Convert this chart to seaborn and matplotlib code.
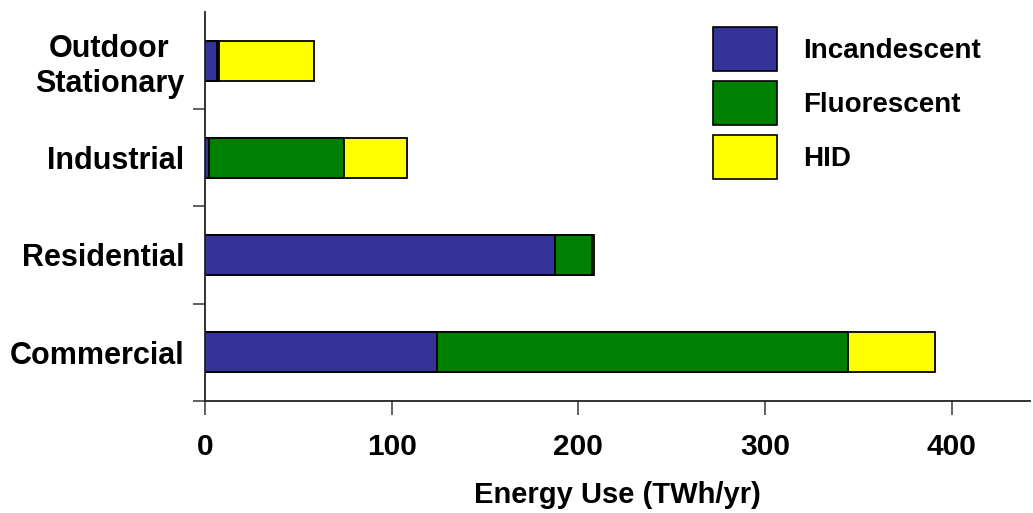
import matplotlib
matplotlib.use("Agg")
import matplotlib.pyplot as plt
from matplotlib.patches import Patch
import numpy as np
import pandas as pd
import seaborn as sns

# ------------------------------------------------------------
# Donnees (TWh/yr)
# ------------------------------------------------------------
sectors = ["Outdoor\nStationary", "Industrial", "Residential", "Commercial"]
incandescent = [6.6, 2.4, 187.5, 124.4]
fluorescent = [1.0, 72.3, 19.9, 220.1]
hid = [50.7, 33.3, 1.0, 46.6]

series_names = ["Incandescent", "Fluorescent", "HID"]
series_colors = ["#333399", "#008000", "#FFFF00"]

sns.set_theme(style="white")
plt.rcParams["font.family"] = ["Liberation Sans", "DejaVu Sans"]
plt.rcParams["font.weight"] = "bold"
plt.rcParams["text.color"] = "black"
plt.rcParams["axes.labelcolor"] = "black"
plt.rcParams["xtick.labelcolor"] = "black"
plt.rcParams["ytick.labelcolor"] = "black"

df = pd.DataFrame({
    "sector": sectors,
    "Incandescent": incandescent,
    "Fluorescent": fluorescent,
    "HID": hid,
})
# cumul pour empiler les barres (on dessine du total vers la premiere serie)
df["cum_inc"] = df["Incandescent"]
df["cum_flu"] = df["cum_inc"] + df["Fluorescent"]
df["cum_hid"] = df["cum_flu"] + df["HID"]

fig = plt.figure(figsize=(10.33, 5.13), dpi=100)
ax = fig.add_axes([205 / 1033, 1 - 400.7 / 513, (1030 - 205) / 1033, (400.7 - 12) / 513])

for col, color in zip(["cum_hid", "cum_flu", "cum_inc"], series_colors[::-1]):
    sns.barplot(data=df, y="sector", x=col, color=color, orient="y",
                width=0.41, edgecolor="black", linewidth=1.3,
                saturation=1, ax=ax)

ax.set_xlim(0, 442)
ax.set_ylim(3.5, -0.5)
ax.set_xticks([0, 100, 200, 300, 400])
ax.set_xlabel("Energy Use (TWh/yr)", fontsize=21, fontweight="bold", labelpad=15)
ax.set_ylabel("")

for sp in ["top", "right"]:
    ax.spines[sp].set_visible(False)
for sp in ["left", "bottom"]:
    ax.spines[sp].set_color("#222222")
    ax.spines[sp].set_linewidth(1.3)

ax.tick_params(axis="x", direction="out", length=10, width=1.3, color="#555555",
               labelsize=21.5, pad=13, bottom=True)
ax.tick_params(axis="y", which="major", length=0, labelsize=22, pad=15, left=False)
ax.set_yticks([0.5, 1.5, 2.5, 3.5], minor=True)
ax.tick_params(axis="y", which="minor", direction="out", length=9, width=1.3,
               color="#555555", left=True)
for lab in ax.get_yticklabels():
    lab.set_fontweight("bold")
    lab.set_multialignment("center")
for lab in ax.get_xticklabels():
    lab.set_fontweight("bold")

handles = [Patch(facecolor=c, edgecolor="black", linewidth=1.2) for c in series_colors]
fig.legend(handles, series_names, loc="upper left",
           bbox_to_anchor=(713 / 1033, 1 - 27 / 513),
           frameon=False, borderpad=0, borderaxespad=0,
           handlelength=2.3, handleheight=2.06, labelspacing=0.36,
           handletextpad=0.93, prop={"size": 20, "weight": "bold"})

fig.savefig("out.png", dpi=100)
